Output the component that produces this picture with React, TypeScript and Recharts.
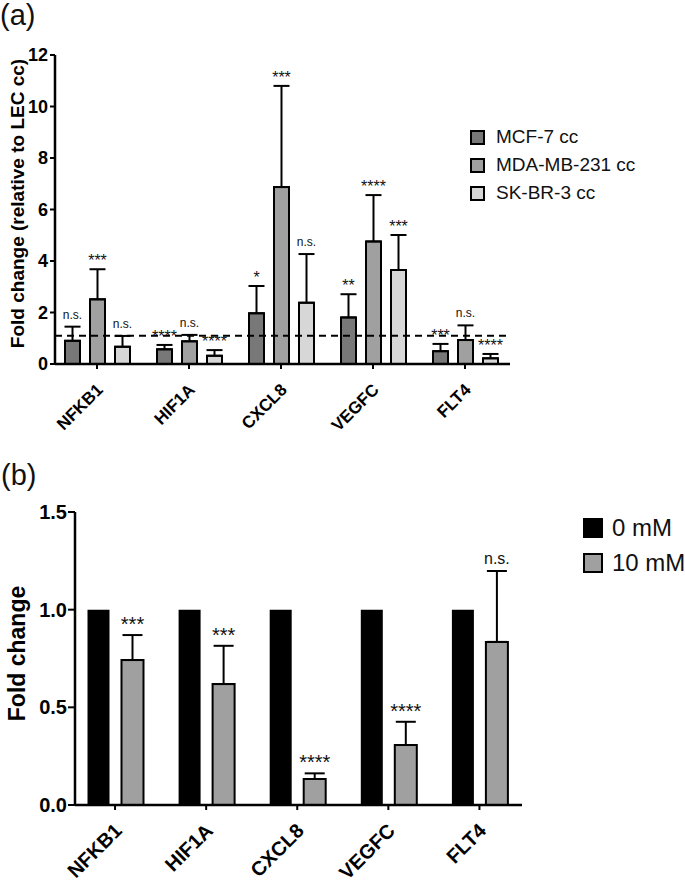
import React from 'react';
import { BarChart, Bar, XAxis, YAxis, ErrorBar, ReferenceLine, LabelList } from 'recharts';

// ---------- data ----------
const genes = ['NFKB1', 'HIF1A', 'CXCL8', 'VEGFC', 'FLT4'];

// panel (a)
const seriesA = ['MCF-7 cc', 'MDA-MB-231 cc', 'SK-BR-3 cc'];
const mcf7 = [0.9, 0.57, 1.97, 1.81, 0.5];
const mcf7ErrTop = [1.45, 0.74, 3.03, 2.71, 0.78];
const mcf7Sig = ['n.s.', '****', '*', '**', '***'];
const mda = [2.51, 0.88, 6.87, 4.76, 0.93];
const mdaErrTop = [3.68, 1.13, 10.8, 6.56, 1.5];
const mdaSig = ['***', 'n.s.', '***', '****', 'n.s.'];
const skbr = [0.67, 0.32, 2.38, 3.65, 0.22];
const skbrErrTop = [1.09, 0.54, 4.27, 5.01, 0.39];
const skbrSig = ['n.s.', '****', 'n.s.', '***', '****'];
const yTicksA = [0, 2, 4, 6, 8, 10, 12];
const refLevel = 1.1;

// panel (b)
const seriesB = ['0 mM', '10 mM'];
const ctrl = [1, 1, 1, 1, 1];
const treat = [0.742, 0.619, 0.133, 0.307, 0.835];
const treatErrTop = [0.87, 0.815, 0.162, 0.426, 1.198];
const treatSig = ['***', '***', '****', '****', 'n.s.'];
const yTicksB = [0, 0.5, 1, 1.5];

// ---------- styling ----------
const FONT = '"Liberation Sans", Arial, Helvetica, sans-serif';
const colorsA = ['#787878', '#a0a0a0', '#d7d7d7'];
const colorsB = ['#000000', '#a0a0a0'];

const tableA = genes.map((g, i) => ({
  gene: g,
  idx: i,
  mcf7: mcf7[i],
  mcf7E: [0, mcf7ErrTop[i] - mcf7[i]],
  mda: mda[i],
  mdaE: [0, mdaErrTop[i] - mda[i]],
  skbr: skbr[i],
  skbrE: [0, skbrErrTop[i] - skbr[i]],
}));

const tableB = genes.map((g, i) => ({
  gene: g,
  idx: i,
  ctrl: ctrl[i],
  treat: treat[i],
  treatE: [0, treatErrTop[i] - treat[i]],
}));

const sigLabel =
  (vals: number[], tops: number[], sigs: string[], nsFs: number, starFs: number, nsGap: number, starGap: number) =>
  (props: any) => {
    const x = Number(props.x);
    const y = Number(props.y);
    const width = Number(props.width);
    const height = Number(props.height);
    const i = Number(props.value);
    const v = vals[i];
    const pxPerUnit = height / v;
    const yTop = y - (tops[i] - v) * pxPerUnit;
    const s = sigs[i];
    const isStar = s.indexOf('*') >= 0;
    return (
      <text
        x={x + width / 2}
        y={yTop - (isStar ? starGap : nsGap)}
        textAnchor="middle"
        fontSize={isStar ? starFs : nsFs}
        fontFamily={FONT}
        fill="#111"
      >
        {s}
      </text>
    );
  };

const makeXTick = (fs: number, dx: number, dy: number) => (p: any) => (
  <text
    transform={`translate(${p.x + dx},${p.y + dy}) rotate(-45)`}
    textAnchor="end"
    dominantBaseline="central"
    fontSize={fs}
    fontWeight="bold"
    fontFamily={FONT}
    fill="#000"
  >
    {p.payload.value}
  </text>
);

const makeYTitle = (text: string, fs: number, cx: number, dyc: number) => (p: any) => {
  const vb = p.viewBox || {};
  const cy = Number(vb.y) + Number(vb.height) / 2 + dyc;
  return (
    <text
      transform={`translate(${cx},${cy}) rotate(-90)`}
      textAnchor="middle"
      dominantBaseline="central"
      fontSize={fs}
      fontWeight="bold"
      fontFamily={FONT}
      fill="#000"
    >
      {text}
    </text>
  );
};

const LegendBox = ({ names, colors, left, top, box, rowH, fs, gap, strokeFirst }: any) => (
  <div style={{ position: 'absolute', left, top, fontFamily: FONT }}>
    {names.map((n: string, i: number) => (
      <div key={n} style={{ display: 'flex', alignItems: 'center', height: rowH }}>
        <div
          style={{
            width: box,
            height: box,
            boxSizing: 'border-box',
            background: colors[i],
            border: strokeFirst || i > 0 ? '2px solid #000' : 'none',
          }}
        />
        <span style={{ marginLeft: gap, fontSize: fs, color: '#111', whiteSpace: 'nowrap' }}>{n}</span>
      </div>
    ))}
  </div>
);

export default function App() {
  return (
    <div style={{ position: 'absolute', left: 0, top: 0, width: 685, height: 883, background: '#fff', fontFamily: FONT, overflow: 'hidden' }}>
      {/* panel labels */}
      <div style={{ position: 'absolute', left: 0, top: 1, fontSize: 29, lineHeight: 1, color: '#111' }}>(a)</div>
      <div style={{ position: 'absolute', left: 1, top: 461, fontSize: 29, lineHeight: 1, color: '#111' }}>(b)</div>

      {/* ---------- panel (a) ---------- */}
      <div style={{ position: 'absolute', left: 0, top: 0 }}>
        <BarChart
          width={685}
          height={440}
          data={tableA}
          margin={{ top: 55, right: 175, bottom: 6, left: 0 }}
          barSize={15}
          barGap={10}
        >
          <XAxis
            dataKey="gene"
            height={70}
            padding={{ left: -4, right: -1 }}
            axisLine={{ stroke: '#000', strokeWidth: 2.5 }}
            tickLine={{ stroke: '#000', strokeWidth: 2 }}
            tickSize={5}
            tickMargin={2}
            interval={0}
            tick={makeXTick(17, 3, 16)}
          />
          <YAxis
            width={55}
            domain={[0, 12]}
            ticks={yTicksA}
            interval={0}
            axisLine={{ stroke: '#000', strokeWidth: 2.5 }}
            tickLine={{ stroke: '#000', strokeWidth: 2 }}
            tickSize={5}
            tickMargin={2}
            tick={{ fill: '#000', fontSize: 18, fontWeight: 'bold', fontFamily: FONT }}
            label={makeYTitle('Fold change (relative to LEC cc)', 19, 17, -6)}
          />
          <Bar dataKey="mcf7" name={seriesA[0]} fill={colorsA[0]} stroke="#000" strokeWidth={2} isAnimationActive={false}>
            <ErrorBar dataKey="mcf7E" width={8} stroke="#000" strokeWidth={2} direction="y" />
            <LabelList dataKey="idx" content={sigLabel(mcf7, mcf7ErrTop, mcf7Sig, 12, 16, 8, 3)} />
          </Bar>
          <Bar dataKey="mda" name={seriesA[1]} fill={colorsA[1]} stroke="#000" strokeWidth={2} isAnimationActive={false}>
            <ErrorBar dataKey="mdaE" width={8} stroke="#000" strokeWidth={2} direction="y" />
            <LabelList dataKey="idx" content={sigLabel(mda, mdaErrTop, mdaSig, 12, 16, 8, 3)} />
          </Bar>
          <Bar dataKey="skbr" name={seriesA[2]} fill={colorsA[2]} stroke="#000" strokeWidth={2} isAnimationActive={false}>
            <ErrorBar dataKey="skbrE" width={8} stroke="#000" strokeWidth={2} direction="y" />
            <LabelList dataKey="idx" content={sigLabel(skbr, skbrErrTop, skbrSig, 12, 16, 8, 3)} />
          </Bar>
          <ReferenceLine y={refLevel} stroke="#000" strokeWidth={2} strokeDasharray="7 5" ifOverflow="visible" />
        </BarChart>
      </div>
      <LegendBox names={seriesA} colors={colorsA} left={470} top={123} box={15} rowH={28} fs={19} gap={11} strokeFirst />

      {/* ---------- panel (b) ---------- */}
      <div style={{ position: 'absolute', left: 0, top: 420 }}>
        <BarChart
          width={685}
          height={463}
          data={tableB}
          margin={{ top: 92, right: 163, bottom: 8, left: 0 }}
          barSize={22}
          barGap={12}
        >
          <XAxis
            dataKey="gene"
            height={70}
            padding={{ left: -5.5, right: -3 }}
            axisLine={{ stroke: '#000', strokeWidth: 2.5 }}
            tickLine={{ stroke: '#000', strokeWidth: 2 }}
            tickSize={5}
            tickMargin={2}
            interval={0}
            tick={makeXTick(20, 3, 15)}
          />
          <YAxis
            width={75}
            domain={[0, 1.5]}
            ticks={yTicksB}
            interval={0}
            axisLine={{ stroke: '#000', strokeWidth: 2.5 }}
            tickLine={{ stroke: '#000', strokeWidth: 2 }}
            tickSize={7}
            tickMargin={1}
            tickFormatter={(v: number) => v.toFixed(1)}
            tick={{ fill: '#000', fontSize: 20, fontWeight: 'bold', fontFamily: FONT }}
            label={makeYTitle('Fold change', 23, 17, -5)}
          />
          <Bar dataKey="ctrl" name={seriesB[0]} fill={colorsB[0]} isAnimationActive={false} />
          <Bar dataKey="treat" name={seriesB[1]} fill={colorsB[1]} stroke="#000" strokeWidth={2} isAnimationActive={false}>
            <ErrorBar dataKey="treatE" width={10} stroke="#000" strokeWidth={2} direction="y" />
            <LabelList dataKey="idx" content={sigLabel(treat, treatErrTop, treatSig, 16, 20, 7, 4)} />
          </Bar>
        </BarChart>
      </div>
      <LegendBox names={seriesB} colors={colorsB} left={583} top={510} box={20} rowH={35} fs={24} gap={9} strokeFirst={false} />
    </div>
  );
}
